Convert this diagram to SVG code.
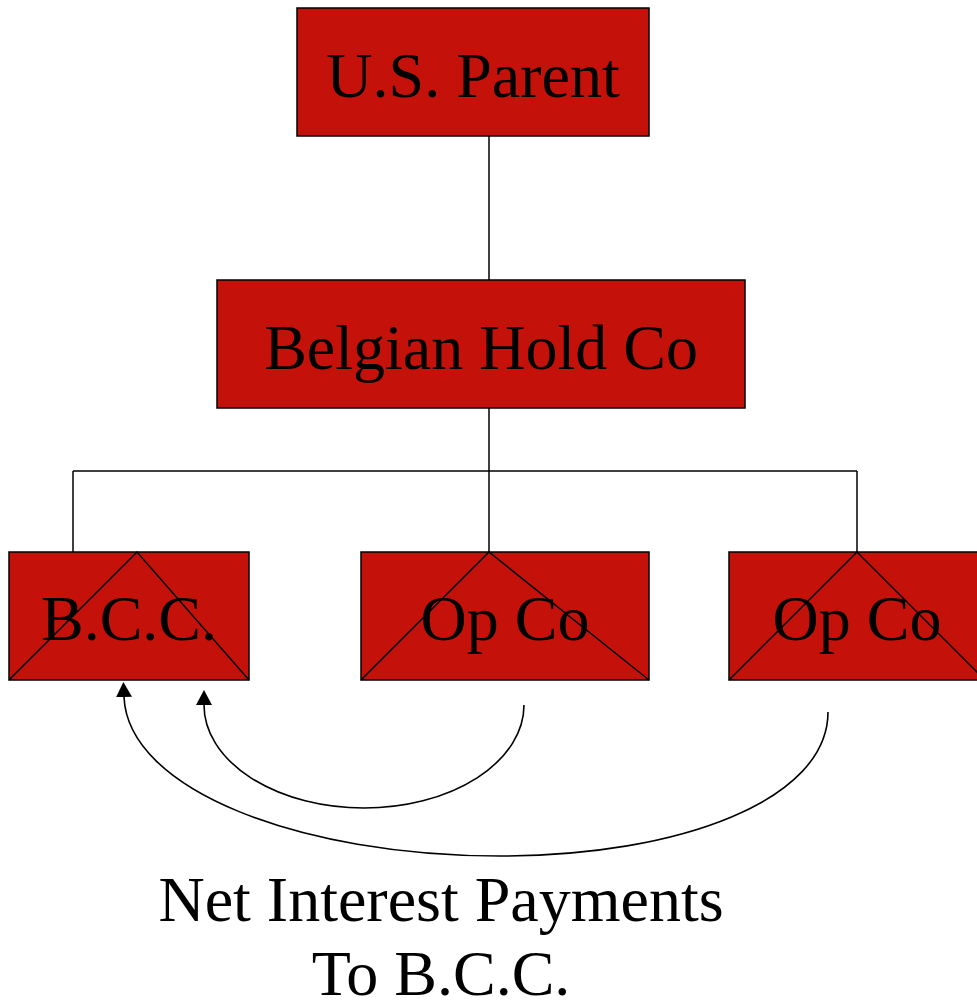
<svg xmlns="http://www.w3.org/2000/svg" width="977" height="1000" viewBox="0 0 977 1000">
  <style>
    .box { fill: #C4120A; stroke: #000; stroke-width: 1.5; }
    .cross { fill: none; stroke: #000; stroke-width: 1.5; }
    .line { fill: none; stroke: #000; stroke-width: 1.5; }
    .flow { fill: none; stroke: #000; stroke-width: 1.6; marker-end: url(#arrow); }
    .label { font-family: "Liberation Serif", "Times New Roman", serif; font-size: 64px; fill: #000; text-anchor: middle; }
  </style>
  <defs>
    <!-- filled triangle; base sits on the path end, tip points along the path -->
    <marker id="arrow" viewBox="0 0 15 16" refX="0" refY="8" markerWidth="15" markerHeight="16" markerUnits="userSpaceOnUse" orient="auto">
      <path d="M0,0 L15,8 L0,16 Z" fill="#000"/>
    </marker>
  </defs>

  <rect width="977" height="1000" fill="#fff"/>

  <!-- ownership lines -->
  <g id="connectors">
    <line class="line" x1="489" y1="136" x2="489" y2="280"/>
    <line class="line" x1="489" y1="408" x2="489" y2="552"/>
    <line class="line" x1="73" y1="471" x2="857" y2="471"/>
    <line class="line" x1="73" y1="471" x2="73" y2="552"/>
    <line class="line" x1="857" y1="471" x2="857" y2="552"/>
    <!-- interest payment flows -->
    <path class="flow" d="M524,705 A160,103 0 0 1 204,705"/>
    <path class="flow" d="M828,712 C828,800 680,856 500,856 C300,856 128,790 124,697"/>
  </g>

  <g id="us-parent">
    <rect class="box" x="297" y="8" width="352" height="128"/>
    <text class="label" x="473" y="97">U.S. Parent</text>
  </g>

  <g id="belgian-hold-co">
    <rect class="box" x="217" y="280" width="528" height="128"/>
    <text class="label" x="481" y="369">Belgian Hold Co</text>
  </g>

  <g id="bcc">
    <rect class="box" x="9" y="552" width="240" height="128"/>
    <polyline class="cross" points="9,680 137,552 249,680"/>
    <text class="label" x="129" y="640">B.C.C.</text>
  </g>

  <g id="op-co-1">
    <rect class="box" x="361" y="552" width="288" height="128"/>
    <polyline class="cross" points="361,680 489,552 649,680"/>
    <text class="label" x="505" y="640">Op Co</text>
  </g>

  <g id="op-co-2">
    <rect class="box" x="729" y="552" width="256" height="128"/>
    <polyline class="cross" points="729,680 857,552 985,680"/>
    <text class="label" x="857" y="640">Op Co</text>
  </g>

  <g id="caption">
    <text class="label" x="441" y="921">Net Interest Payments</text>
    <text class="label" x="441" y="995">To B.C.C.</text>
  </g>
</svg>
